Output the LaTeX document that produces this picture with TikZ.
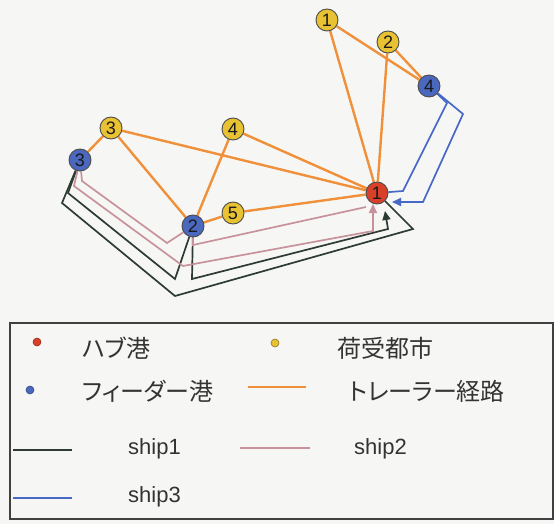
\documentclass[tikz,border=0pt]{standalone}
\usepackage{fontspec}
\setmainfont{Liberation Sans}
\newfontfamily\jp[RawFeature=+palt]{Noto Sans CJK JP}
\usetikzlibrary{arrows.meta}
\pgfdeclarelayer{back}
\pgfsetlayers{back,main}
\definecolor{bgc}{HTML}{F6F7F4}
\definecolor{trl}{HTML}{F0903A}
\definecolor{sone}{HTML}{2E3A34}
\definecolor{stwo}{HTML}{C8929C}
\definecolor{sthree}{HTML}{4868C8}
\definecolor{hubc}{HTML}{D8402A}
\definecolor{cityc}{HTML}{E8C232}
\definecolor{feedc}{HTML}{4A68BE}
\definecolor{txt}{HTML}{333333}
\begin{document}
\begin{tikzpicture}[x=1pt,y=-1pt,
  port/.style={circle,draw=black!70,line width=0.9pt,minimum size=22pt,inner sep=0pt,
    font=\fontsize{18}{18}\selectfont,text=black!90},
  hub/.style={port,fill=hubc},
  city/.style={port,fill=cityc},
  feeder/.style={port,fill=feedc},
  trailer/.style={draw=trl,line width=2.4pt},
  shipone/.style={draw=sone,line width=1.7pt},
  shiptwo/.style={draw=stwo,line width=1.7pt},
  shipthree/.style={draw=sthree,line width=1.7pt},
  tip/.style={-{Triangle[length=9pt,width=8pt]}},
  dot/.style={circle,minimum size=8pt,inner sep=0pt,line width=0.6pt},
  lbl/.style={anchor=west,inner sep=0pt,text=txt,font=\fontsize{24}{24}\selectfont},
  lat/.style={anchor=west,inner sep=0pt,text=txt,font=\fontsize{22}{22}\selectfont},
  leg/.style={line width=2.2pt}
]
\useasboundingbox (0,0) rectangle (554,524);
\begin{pgfonlayer}{back}
\fill[bgc] (0,0) rectangle (554,524);
\end{pgfonlayer}

% nodes
\node[city] (c1) at (327,20) {1};
\node[city] (c2) at (388,42) {2};
\node[feeder] (f4) at (429,86) {4};
\node[city] (c4) at (233,129) {4};
\node[city] (c3) at (111,128) {3};
\node[feeder] (f3) at (80,160) {3};
\node[feeder] (f2) at (193,226) {2};
\node[city] (c5) at (233,213) {5};
\node[hub] (h1) at (377,193) {1};

\coordinate (k2end) at (385,211);
\coordinate (p3end) at (373,204);
\coordinate (p2end) at (366,207);
\coordinate (s2end) at (392,202);

\begin{pgfonlayer}{back}
% trailer routes
\draw[trailer] (c1) -- (f4);
\draw[trailer] (c2) -- (f4);
\draw[trailer] (c1) -- (h1);
\draw[trailer] (c2) -- (h1);
\draw[trailer] (c3) -- (f3);
\draw[trailer] (c3) -- (h1);
\draw[trailer] (c3) -- (f2);
\draw[trailer] (c4) -- (f2);
\draw[trailer] (c4) -- (h1);
\draw[trailer] (f2) -- (c5);
\draw[trailer] (c5) -- (h1);
% ship1
\draw[shipone] (f3) -- (62,203) -- (175,296) -- (413,229) -- (h1);
\draw[shipone] (f3) -- (68,193) -- (175,279) -- (f2);
\draw[shipone,tip] (f2) -- (192,279) -- (388,229) -- (k2end);
% ship2
\draw[shiptwo] (f3) -- (82,181) -- (167,243) -- (f2);
\draw[shiptwo,tip] (f3) -- (74,186) -- (183,266) -- (373,231) -- (p3end);
\draw[shiptwo] (f2) -- (193,245) -- (p2end);
% ship3
\draw[shipthree] (f4) -- (447,103) -- (403,191) -- (h1);
\draw[shipthree,tip] (f4) -- (463,114) -- (423,202) -- (s2end);
\end{pgfonlayer}

% legend
\draw[draw=black!75,line width=1.3pt] (10,323) rectangle (553,519);
\node[dot,fill=hubc,draw=hubc!70!black] (lhub) at (37,342) {};
\node[lbl] (thub) at (82,348) {\jp ハブ港};
\node[dot,fill=cityc,draw=cityc!60!black] (lcity) at (275,343) {};
\node[lbl] (tcity) at (337,348) {\jp 荷受都市};
\node[dot,fill=feedc,draw=feedc!70!black] (lfeed) at (30,390) {};
\node[lbl] (tfeed) at (82,391) {\jp フィーダー港};
\coordinate (ltra) at (248,387); \coordinate (ltrb) at (306,387);
\draw[leg,draw=trl] (ltra) -- (ltrb);
\node[lbl] (ttra) at (349,391) {\jp トレーラー経路};
\coordinate (lsa) at (13,450); \coordinate (lsb) at (72,450);
\draw[leg,draw=sone] (lsa) -- (lsb);
\node[lat] (tsa) at (128,449) {ship1};
\coordinate (lpa) at (240,448); \coordinate (lpb) at (310,448);
\draw[leg,draw=stwo] (lpa) -- (lpb);
\node[lat] (tpa) at (354,449) {ship2};
\coordinate (lba) at (13,498); \coordinate (lbb) at (72,498);
\draw[leg,draw=sthree] (lba) -- (lbb);
\node[lat] (tba) at (128,497) {ship3};
\end{tikzpicture}
\end{document}
